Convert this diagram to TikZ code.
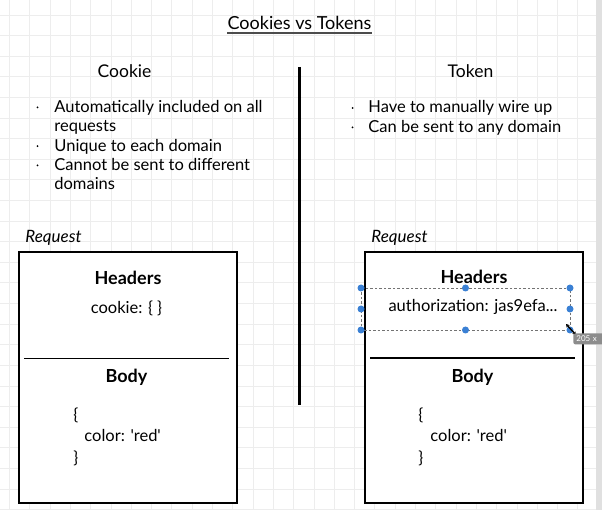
\documentclass[tikz,border=0pt]{standalone}
\usepackage{fontspec}
\setmainfont{Lato}
\usepackage{tikz}
\usetikzlibrary{positioning}
\usetikzlibrary{arrows.meta}
\definecolor{selblue}{RGB}{58,128,212}

\begin{document}
\begin{tikzpicture}[
	x=1pt, y=-1pt,
	thick,
	font=\fontsize{16.5}{19.5}\selectfont
]
\tikzset{
    gridline/.style = {draw=black!7, line width=0.6pt},
    reqbox/.style = {rectangle, draw=black, line width=2pt, fill=white, anchor=north west, inner sep=0pt},
    txt/.style = {anchor=base, inner sep=0pt},
    ltxt/.style = {anchor=base west, inner sep=0pt},
    dotmark/.style = {circle, fill=black, inner sep=0pt, minimum size=2pt},
    hdr/.style = {txt, font=\fontsize{18}{20}\selectfont\bfseries},
    req/.style = {ltxt, font=\fontsize{17}{20}\selectfont\itshape},
    sepline/.style = {draw=black, line width=1.6pt},
    seldash/.style = {draw=black!55, line width=0.8pt, dash pattern=on 2.5pt off 2pt},
    handle/.style = {circle, fill=selblue, inner sep=0pt, minimum size=7pt},
    sizetip/.style = {rectangle, rounded corners=2pt, fill=black!45, text=white, anchor=north west,
                      font=\fontsize{8}{9}\selectfont, minimum height=11pt, minimum width=40pt, align=left, text width=34pt, inner sep=2pt}
}
\useasboundingbox (0,0) rectangle (602,510);
\fill[white] (0,0) rectangle (602,510);
\foreach \gx in {0,...,29} {\draw[gridline] (9.3+20.3*\gx,0) -- (9.3+20.3*\gx,510);}
\foreach \gy in {0,...,24} {\draw[gridline] (0,15+20.6*\gy) -- (602,15+20.6*\gy);}
\fill[black!12] (596,0) rectangle (602,510);

\node[txt,font=\fontsize{18}{20}\selectfont] (title) at (299.5,29.5) {Cookies vs Tokens};
\draw[draw=black!70,line width=1.2pt] ([yshift=-3pt]title.south west) -- ([yshift=-3pt]title.south east);

\node[txt,font=\fontsize{17.5}{20}\selectfont] (cookiehd) at (124.5,78) {Cookie};
\node[txt,font=\fontsize{17.5}{20}\selectfont] (tokenhd) at (470.5,77.5) {Token};

\foreach \i/\t in {0/Automatically included on all,1/requests,2/Unique to each domain,3/Cannot be sent to different,4/domains}
    \node[ltxt] (cl\i) at (54,112.5+19.3*\i) {\t};
\foreach \i in {0,2,3}
    \node[dotmark] (cd\i) at (37.5,107.5+19.3*\i) {};
\foreach \i/\t in {0/Have to manually wire up,1/Can be sent to any domain}
    \node[ltxt] (tl\i) at (368,113+19.3*\i) {\t};
\foreach \i in {0,1}
    \node[dotmark] (td\i) at (352.5,108+19.3*\i) {};

\coordinate (divtop) at (299.5,67);
\coordinate (divbot) at (299.5,405);
\draw[line width=2.5pt] (divtop) -- (divbot);

% cookie request
\node[req] (creq) at (25,243) {Request};
\node[reqbox,minimum width=218,minimum height=250] (cbox) at (18,251.5) {};
\coordinate (csepl) at (24,358.5);
\coordinate (csepr) at (229,358.5);
\draw[sepline] (csepl) -- (csepr);
\node[hdr] (chead) at (128,284.5) {Headers};
\node[txt] (ccookie) at (126.5,314) {cookie: \{ \}};
\node[hdr] (cbody) at (126.5,382) {Body};
\node[ltxt] (cob) at (73,420.5) {\{};
\node[ltxt] (ccol) at (84,441.5) {color: \textquotesingle red\textquotesingle};
\node[ltxt] (ccb) at (73,463) {\}};

% token request
\node[req] (treq) at (371,243) {Request};
\node[reqbox,minimum width=218,minimum height=250] (tbox) at (363.5,251.5) {};
\coordinate (tsepl) at (370,358);
\coordinate (tsepr) at (575,358);
\draw[sepline] (tsepl) -- (tsepr);
\node[hdr] (thead) at (474,283.5) {Headers};
\node[txt] (tauth) at (473,312) {authorization: jas9efa...};
\node[hdr] (tbody) at (472.5,382) {Body};
\node[ltxt] (tob) at (418,420.5) {\{};
\node[ltxt] (tcol) at (430,441.5) {color: \textquotesingle red\textquotesingle};
\node[ltxt] (tcb) at (418,463) {\}};

\coordinate (selnw) at (361,288);
\coordinate (selse) at (570,330);
\draw[seldash] (selnw) rectangle (selse);
\foreach \hx/\hy [count=\k] in {361/288,465.5/288,570/288,361/309,570/309,361/330,465.5/330,570/330}
    \node[handle] (h\k) at (\hx,\hy) {};
\coordinate (cura) at (566,324);
\coordinate (curb) at (576,335);
\draw[{Stealth[length=3.5pt,width=4pt]}-{Stealth[length=3.5pt,width=4pt]},line width=1.4pt] (cura) -- (curb);
\node[sizetip] (tip) at (573,333) {205 x};
\end{tikzpicture}
\end{document}
